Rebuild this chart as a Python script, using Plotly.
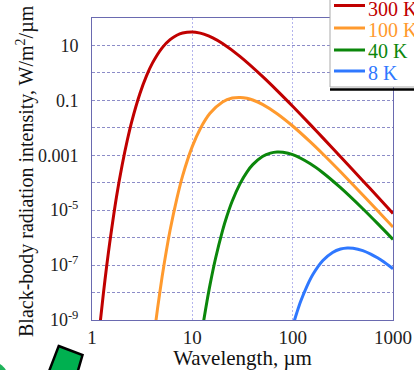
import plotly.graph_objects as go

# ---- data (wavelength in µm, intensity in W/m²/µm) ----
wl_300 = [1.2, 1.3, 1.4, 1.5, 1.75, 2, 2.25, 2.5, 3, 3.5, 4, 5, 6, 7, 8, 10, 12, 13, 16, 20, 30, 50, 70, 100, 150, 200, 300, 500, 700, 1000]
E_300 = [6.6e-10, 9.5e-9, 9.2e-8, 6.3e-7, 2.9e-5, 4.5e-4, 3.6e-3, 1.8e-2, 0.175, 0.80, 2.27, 8.2, 16.2, 23.6, 28.5, 31.2, 28.1, 25.8, 18.8, 11.7, 3.9, 0.743, 0.226, 0.0608, 0.0131, 4.3e-3, 8.9e-4, 1.19e-4, 3.14e-5, 7.6e-6]

wl_100 = [4.3, 4.5, 5, 5.5, 6, 7, 8, 10, 12, 15, 20, 25, 30, 35, 40, 50, 70, 100, 150, 200, 300, 500, 700, 1000]
E_100 = [7.4e-10, 2.6e-9, 3.8e-8, 3.2e-7, 1.86e-6, 2.6e-5, 1.78e-4, 2.11e-3, 9.3e-3, 0.0337, 0.0879, 0.1216, 0.128, 0.119, 0.103, 0.0713, 0.0327, 0.01164, 3.06e-3, 1.11e-3, 2.50e-4, 3.59e-5, 9.8e-6, 2.42e-6]

wl_40 = [12.8, 13, 14, 15, 17, 20, 22, 25, 30, 35, 40, 50, 60, 70, 80, 100, 150, 200, 300, 500, 700, 1000]
E_40 = [6.8e-10, 9.8e-10, 4.8e-9, 1.9e-8, 1.7e-7, 1.81e-6, 5.75e-6, 2.16e-5, 9.5e-5, 2.45e-4, 4.55e-4, 9.0e-4, 1.20e-3, 1.32e-3, 1.29e-3, 1.05e-3, 4.9e-4, 2.32e-4, 6.6e-5, 1.13e-5, 3.3e-6, 8.6e-7]

wl_8 = [100, 105, 110, 120, 140, 160, 200, 250, 300, 350, 400, 500, 600, 700, 800, 1000]
E_8 = [5.8e-10, 1.07e-9, 1.84e-9, 4.7e-9, 1.83e-8, 4.7e-8, 1.46e-7, 2.88e-7, 3.84e-7, 4.2e-7, 4.1e-7, 3.37e-7, 2.52e-7, 1.85e-7, 1.35e-7, 7.4e-8]

series_names = ["300 K", "100 K", "40 K", "8 K"]
series_colors = ["#c00000", "#ff9a2e", "#0b870b", "#2f78ff"]

x_tickvals = [1, 10, 100, 1000]
x_ticktext = ["1", "10", "100", "1000"]
y_tickvals = [1e-9, 1e-8, 1e-7, 1e-6, 1e-5, 1e-4, 1e-3, 1e-2, 1e-1, 1, 10, 100]
y_ticktext = ["10<sup>-9</sup>", "", "10<sup>-7</sup>", "", "10<sup>-5</sup>", "", "0.001", "", "0.1", "", "10", ""]

FONT = "'Liberation Serif', 'Times New Roman', 'DejaVu Serif', serif"

# pixel -> paper helpers (plot area: x 92..393, y 18..320) for layout decorations
L, R, T, B = 92, 21, 18, 50
W, H = 414, 370
PW, PH = W - L - R, H - T - B
def px(x):
    return (x - L) / PW
def py(y):
    return (H - B - y) / PH

fig = go.Figure()
for wl, E, name, col in zip([wl_300, wl_100, wl_40, wl_8], [E_300, E_100, E_40, E_8], series_names, series_colors):
    fig.add_trace(go.Scatter(x=wl, y=E, mode="lines", name=name, showlegend=False,
                             line=dict(color=col, width=3, shape="spline", smoothing=0.8)))

fig.update_layout(
    width=W, height=H,
    margin=dict(l=L, r=R, t=T, b=B, autoexpand=False),
    paper_bgcolor="white", plot_bgcolor="white",
    font=dict(family=FONT, size=18, color="#222222"),
    showlegend=False,
    xaxis=dict(type="log", range=[0, 3], tickvals=x_tickvals, ticktext=x_ticktext,
               showline=True, mirror=True, linecolor="#6a6ab0", linewidth=1,
               showgrid=True, gridcolor="#b4b4ee", griddash="2px,2px", gridwidth=1,
               ticks="", zeroline=False, tickfont=dict(size=19),
               title=dict(text="Wavelength, µm", font=dict(family=FONT, size=21, color="#111111"), standoff=6)),
    yaxis=dict(type="log", range=[-9, 2], tickvals=y_tickvals, ticktext=y_ticktext,
               showline=True, mirror=True, linecolor="#6a6ab0", linewidth=1,
               showgrid=True, gridcolor="#8c8cc8", griddash="3px,2px", gridwidth=1,
               ticks="", zeroline=False, ticklabelstandoff=9),
)

# y-axis title as rotated annotation
fig.add_annotation(text="Black-body radiation intensity, W/m<sup>2</sup>/µm", textangle=-90,
                   xref="paper", yref="paper", x=px(25), y=py(171), xanchor="center", yanchor="middle",
                   showarrow=False, font=dict(family=FONT, size=20, color="#111111"))

# legend box (partly outside the window, as in the reference)
fig.add_shape(type="rect", xref="paper", yref="paper", x0=px(330), x1=px(430), y0=py(87), y1=py(-10),
              fillcolor="white", line=dict(color="#aaaaaa", width=1), layer="above")
fig.add_shape(type="line", xref="paper", yref="paper", x0=px(330), x1=px(430), y0=py(89.5), y1=py(89.5),
              line=dict(color="black", width=2.5), layer="above")
legend_line_y = [5.5, 28, 50, 71]
legend_text_y = [9, 29.5, 50.5, 72.5]
for name, col, ly, ty in zip(series_names, series_colors, legend_line_y, legend_text_y):
    fig.add_shape(type="line", xref="paper", yref="paper", x0=px(334), x1=px(365), y0=py(ly), y1=py(ly),
                  line=dict(color=col, width=3), layer="above")
    fig.add_annotation(text=name, xref="paper", yref="paper", x=px(366), y=py(ty),
                       xanchor="left", yanchor="middle", showarrow=False,
                       font=dict(family=FONT, size=20, color=col))

# green decorative parallelogram and corner disc at bottom-left
pts = [(58.7, 346), (82.5, 355), (77, 374), (48, 374)]
path = "M " + " L ".join(f"{px(a)},{py(b)}" for a, b in pts) + " Z"
fig.add_shape(type="path", xref="paper", yref="paper", path=path,
              fillcolor="#00b050", line=dict(color="black", width=2.5), layer="above")
fig.add_shape(type="circle", xref="paper", yref="paper", x0=px(-24), x1=px(8), y0=py(394), y1=py(362),
              fillcolor="#1fb35a", line=dict(width=0), layer="above")

fig.write_html("out.html", config={"displayModeBar": False},
               post_script="document.body.style.margin='0';document.body.style.overflow='hidden';")
